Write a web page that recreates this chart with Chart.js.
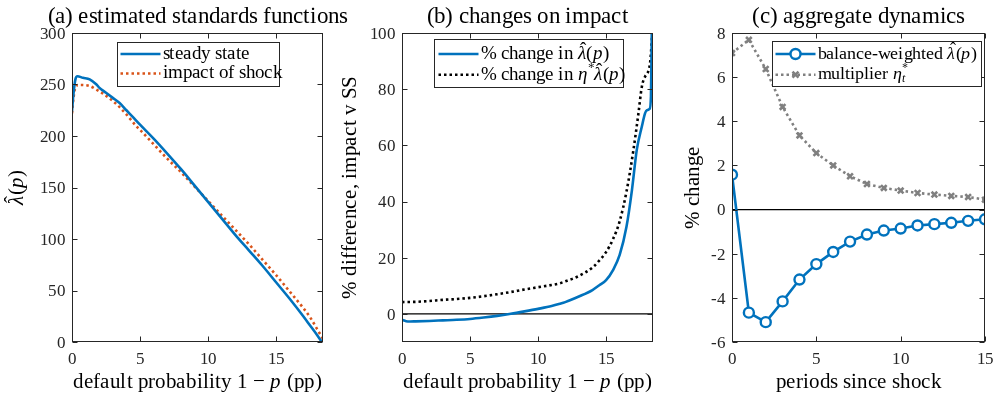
<!DOCTYPE html>
<html><head><meta charset="utf-8">
<script src="https://cdn.jsdelivr.net/npm/chart.js@4.4.1/dist/chart.umd.min.js"></script>
<style>
@font-face{font-family:'CMSerif';font-style:normal;font-weight:400;src:local('Liberation Serif'),local('LiberationSerif'),local('Liberation Serif Regular');}
@font-face{font-family:'CMSerif';font-style:italic;font-weight:400;src:local('Liberation Serif Italic'),local('LiberationSerif-Italic');}
html,body{margin:0;padding:0;background:#fff;}
body{width:995px;height:394px;overflow:hidden;position:relative;}
canvas{position:absolute;top:0;background:transparent;}
#fontprime{position:absolute;left:0;top:0;font-family:'CMSerif';font-size:24px;white-space:nowrap;color:#fff;opacity:0.01;}
</style></head>
<body>
<div id="fontprime">prime 0123 λ η <i>italic λ η p t</i></div>
<canvas id="ca" width="350" height="394" style="left:0px"></canvas>
<canvas id="cb" width="330" height="394" style="left:330px"></canvas>
<canvas id="cc" width="335" height="394" style="left:660px"></canvas>
<script>
// ---------------- DATA ----------------
// Panel (a): estimated standards functions
const aSteadyX = [0,0.1,0.25,0.4,0.8,1.3,1.8,2,2.5,3,3.5,4,4.5,5,6,7,8,9,10,11,12,13,14,15,16,17,17.5,18,18.36];
const aSteadyY = [224,240,255,258,256.5,255,250,247,242,237,232,225,218,211,197.5,183,168,152,136,120,104,89,74,58,42,25,16,7,0];
const aImpactX = [0,0.1,0.3,0.6,1.3,1.8,2.3,3,3.5,4,4.76,5,6,7,8,9,10,11,12,13,14,15,16,17,17.5,18,18.45];
const aImpactY = [222,236,249,249.5,248.5,245,241,234,228,221,209,206,192,178,165,151,137,123,109,95,80,65,49,33,24,13,3];

// Panel (b): changes on impact
const bLamX = [0,0.3,0.6,1,2,3,4,5,6,7,8,9,10,11,11.6,12,13,14,14.5,15,15.5,16,16.5,16.9,17.26,17.63,17.87,18.0,18.2,18.3,18.36];
const bLamY = [-2.1,-2.6,-2.7,-2.65,-2.5,-2.3,-2.1,-1.8,-1.3,-0.7,0.05,0.9,1.8,2.8,3.6,4.2,6.2,8.5,10.2,12,15.5,21,31,44,58.5,66.7,71.5,72.5,73,77.5,100];
const bEtaX = [0,1,2,3,4,5,6,7,8,9,10,11,11.6,12,13,14,14.5,15,15.5,16,16.5,17,17.38,17.63,17.87,18.1,18.25,18.4];
const bEtaY = [4.2,4.3,4.6,5.0,5.3,5.7,6.3,7.0,7.8,8.7,9.5,10.3,10.9,11.6,13.5,16.5,19,22,26.5,33,43.5,58,71.4,80.9,84.5,86.3,90,100];

// Panel (c): aggregate dynamics
const periods = [0,1,2,3,4,5,6,7,8,9,10,11,12,13,14,15];
const balanceWeighted = [1.58,-4.67,-5.1,-4.16,-3.17,-2.47,-1.92,-1.45,-1.13,-0.95,-0.86,-0.72,-0.66,-0.6,-0.51,-0.44];
const multiplier = [7.09,7.69,6.37,4.65,3.36,2.56,2.0,1.51,1.16,0.98,0.86,0.75,0.68,0.62,0.57,0.45];

// Axis ranges and tick labels
const xRangeAB = [0, 18.45];
const xTicksAB = [0,5,10,15];
const yRangeA = [0,300];
const yTicksA = [0,50,100,150,200,250,300];
const yRangeB = [-10,100];
const yTicksB = [0,20,40,60,80,100];
const xRangeC = [0,15];
const xTicksC = [0,5,10,15];
const yRangeC = [-6,8];
const yTicksC = [-6,-4,-2,0,2,4,6,8];

// Text ($...$ = math: letters italic, ^ superscript, _ subscript)
const titles = ['(a) estimated standards functions','(b) changes on impact','(c) aggregate dynamics'];
const xTitleAB = 'default probability 1 \u2212 $p$ (pp)';
const xTitleC = 'periods since shock';
const yTitles = ['$\u03BB\u0302(p)$','% difference, impact v SS','% change'];
const legendA = ['steady state','impact of shock'];
const legendB = ['% change in $\u03BB\u0302(p)$','% change in $\u03B7^*\u03BB\u0302(p)$'];
const legendC = ['balance-weighted $\u03BB\u0302(p)$','multiplier $\u03B7^*_t$'];

// ---------------- HELPERS ----------------
const FAMILY = "CMSerif, 'Liberation Serif', 'Times New Roman', serif";
const BASE = 24;
const INK = '#262626';
const BLUE = '#0072BD', ORANGE = '#D95319', GRAY = '#808080';
const pts = (xs, ys) => xs.map((x,i)=>({x, y: ys[i]}));

function setFont(ctx, italic){ ctx.font = (italic?'italic ':'') + BASE + 'px ' + FAMILY; }
function textW(ctx, t, size, italic){ setFont(ctx, italic); return ctx.measureText(t).width * size / BASE; }
function fillT(ctx, t, x, y, size, italic){
  const k = size / BASE; ctx.save(); ctx.translate(x, y); ctx.scale(k, k); setFont(ctx, italic); ctx.fillText(t, 0, 0); ctx.restore();
}
function parseRich(str){
  const segs=[]; let math=false, mode='n';
  for (const ch of str){
    if (ch==='$'){ math=!math; continue; }
    if (math && (ch==='^'||ch==='_')){ mode = ch==='^'?'sup':'sub'; continue; }
    if (ch==='\u0302'){
      const last = segs[segs.length-1];
      const c = last.t.slice(-1); last.t = last.t.slice(0,-1);
      if (!last.t) segs.pop();
      segs.push({t:c, it:last.it, mode:last.mode, hat:true});
      continue;
    }
    const it = math && /[a-zA-Z\u03B1-\u03C9]/.test(ch);
    const last = segs[segs.length-1];
    if (last && last.it===it && last.mode==='n' && mode==='n' && !last.hat) { last.t += ch; }
    else segs.push({t:ch, it, mode});
    mode='n';
  }
  return segs;
}
function drawRich(ctx, segs, x, y, size, dry){
  let cx=x;
  ctx.textAlign='left';
  segs.forEach((s,k)=>{
    let fs=size, dy=0;
    if (s.mode==='sup'){ fs=size*0.68; dy=-size*0.32; }
    if (s.mode==='sub'){ fs=size*0.68; dy=size*0.24; }
    let sx = cx;
    if (s.mode==='sub' && k>0 && segs[k-1].mode==='sup') sx = segs[k-1]._x;
    const w = textW(ctx, s.t, fs, s.it);
    if (!dry){
      fillT(ctx, s.t, sx, y+dy, fs, s.it);
      if (s.hat){
        const hw = textW(ctx, '\u02C6', fs, false);
        fillT(ctx, '\u02C6', sx + w/2 - hw/2 + (s.it?1.5:0), y+dy - fs*0.2, fs, false);
      }
    }
    s._x = sx;
    cx = Math.max(cx, sx + w + (s.it?1:0));
  });
  return cx - x;
}
function drawMarker(ctx, style, x, y, r){
  ctx.beginPath();
  if (style==='circle'){ ctx.arc(x,y,r,0,Math.PI*2); ctx.fill(); ctx.stroke(); }
  else if (style==='crossRot'){ const d=r*0.75; ctx.moveTo(x-d,y-d); ctx.lineTo(x+d,y+d); ctx.moveTo(x+d,y-d); ctx.lineTo(x-d,y+d); ctx.stroke(); }
}

const TICK_SIZE = 17;
const framePlugin = {
  id:'frame',
  afterDatasetsDraw(chart){
    const {ctx, chartArea:ca, scales:{x,y}} = chart;
    ctx.save();
    ctx.strokeStyle=INK; ctx.lineWidth=1; ctx.setLineDash([]);
    const L=Math.round(ca.left)+0.5, R=Math.round(ca.right)-0.5, T=Math.round(ca.top)+0.5, B=Math.round(ca.bottom)-0.5;
    ctx.strokeRect(L,T,R-L,B-T);
    const tl=5;
    ctx.beginPath();
    x.ticks.forEach(t=>{ const p=Math.round(x.getPixelForValue(t.value))+0.5; ctx.moveTo(p,B); ctx.lineTo(p,B-tl); ctx.moveTo(p,T); ctx.lineTo(p,T+tl); });
    y.ticks.forEach(t=>{ const p=Math.round(y.getPixelForValue(t.value))+0.5; ctx.moveTo(L,p); ctx.lineTo(L+tl,p); ctx.moveTo(R,p); ctx.lineTo(R-tl,p); });
    ctx.stroke();
    ctx.fillStyle=INK; ctx.textBaseline='alphabetic';
    ctx.textAlign='right';
    y.ticks.forEach(t=>fillT(ctx, String(t.value), ca.left-7, y.getPixelForValue(t.value)+5.8, TICK_SIZE, false));
    ctx.textAlign='center';
    x.ticks.forEach(t=>fillT(ctx, String(t.value), x.getPixelForValue(t.value), ca.bottom+22, TICK_SIZE, false));
    ctx.restore();
  }
};
const axisTitlesPlugin = {
  id:'axisTitles',
  afterDraw(chart, args, o){
    const {ctx, chartArea:ca} = chart;
    ctx.save(); ctx.fillStyle='#000'; ctx.textBaseline='middle';
    ctx.textAlign='center';
    fillT(ctx, o.title, (ca.left+ca.right)/2, o.titleY, o.titleSize, false);
    const xs = parseRich(o.x); const xw = drawRich(ctx, xs, 0, 0, o.size, true);
    drawRich(ctx, xs, (ca.left+ca.right)/2 - xw/2, o.xY, o.size);
    ctx.translate(o.yX, (ca.top+ca.bottom)/2); ctx.rotate(-Math.PI/2);
    const ys = parseRich(o.y); const yw = drawRich(ctx, ys, 0, 0, o.size, true);
    drawRich(ctx, ys, -yw/2, 0, o.size);
    ctx.restore();
  }
};
const boxLegendPlugin = {
  id:'boxLegend',
  afterDraw(chart, args, o){
    const {ctx, chartArea:ca} = chart;
    const x0=Math.round(ca.left+o.left)+0.5, y0=Math.round(ca.top+o.top)+0.5;
    ctx.save();
    ctx.fillStyle='#fff'; ctx.fillRect(x0,y0,o.width,o.height);
    ctx.strokeStyle=INK; ctx.lineWidth=1; ctx.strokeRect(x0,y0,o.width,o.height);
    const items = chart.data.datasets.filter(d=>!d.noLegend);
    items.forEach((d,i)=>{
      const cy = y0 + o.rowStart + i*o.rowGap;
      const lx0 = x0 + o.sampleLeft, lx1 = lx0 + o.sampleWidth;
      ctx.beginPath(); ctx.setLineDash(d.borderDash||[]); ctx.lineCap='butt';
      ctx.lineWidth=d.borderWidth; ctx.strokeStyle=d.borderColor;
      ctx.moveTo(lx0,cy); ctx.lineTo(lx1,cy); ctx.stroke(); ctx.setLineDash([]);
      if (d.pointRadius>0){
        ctx.lineWidth=d.pointBorderWidth; ctx.strokeStyle=d.pointBorderColor||d.borderColor; ctx.fillStyle=d.pointBackgroundColor||'#fff';
        drawMarker(ctx, d.pointStyle, (lx0+lx1)/2, cy, d.pointRadius);
      }
      ctx.fillStyle='#000'; ctx.textBaseline='middle';
      drawRich(ctx, parseRich(d.label), lx1+o.textGap, cy, o.fontSize);
    });
    ctx.restore();
  }
};

function makeOptions(cfg){
  return {
    responsive:false, animation:false, devicePixelRatio:1,
    layout:{padding:{left:0,right:cfg.padRight,top:33,bottom:0}},
    plugins:{
      legend:{display:false}, tooltip:{enabled:false}, title:{display:false},
      boxLegend: cfg.legend,
      axisTitles: {title:cfg.title, titleY:17, titleSize:22.5, x:cfg.xTitle, y:cfg.yTitle, xY:382, yX:cfg.yTitleX, size:21}
    },
    scales:{
      x:{type:'linear', min:cfg.xRange[0], max:cfg.xRange[1],
        grid:{display:false, drawTicks:false}, border:{display:false},
        afterBuildTicks:s=>{ s.ticks = cfg.xTicks.map(v=>({value:v})); },
        afterFit:s=>{ s.height = 52; },
        ticks:{display:false}, title:{display:false}
      },
      y:{type:'linear', min:cfg.yRange[0], max:cfg.yRange[1],
        grid:{display:false, drawTicks:false}, border:{display:false},
        afterBuildTicks:s=>{ s.ticks = cfg.yTicks.map(v=>({value:v})); },
        afterFit:s=>{ s.width = 72; },
        ticks:{display:false}, title:{display:false}
      }
    }
  };
}
Chart.register(framePlugin, boxLegendPlugin, axisTitlesPlugin);
Chart.defaults.font.family = FAMILY;

const charts = [];
function build(){
  if (charts.length) { charts.forEach(c => c.update('none')); return; }
  // ---------------- PANEL A ----------------
  charts.push(new Chart(document.getElementById('ca'), {
    type:'line',
    data:{datasets:[
      {label:legendA[0], data:pts(aSteadyX,aSteadyY), borderColor:BLUE, borderWidth:2.6, pointRadius:0, cubicInterpolationMode:'monotone', fill:false},
      {label:legendA[1], data:pts(aImpactX,aImpactY), borderColor:ORANGE, borderWidth:2.6, borderDash:[2.5,3], pointRadius:0, cubicInterpolationMode:'monotone', fill:false}
    ]},
    options: makeOptions({padRight:27, title:titles[0], xRange:xRangeAB, xTicks:xTicksAB, yRange:yRangeA, yTicks:yTicksA,
      xTitle:xTitleAB, yTitle:yTitles[0], yTitleX:17,
      legend:{left:45, top:9, width:162, height:44, rowStart:11.5, rowGap:19.5, sampleLeft:3, sampleWidth:40, textGap:2, fontSize:18.5}})
  }));
  // ---------------- PANEL B ----------------
  charts.push(new Chart(document.getElementById('cb'), {
    type:'line',
    data:{datasets:[
      {label:legendB[0], data:pts(bLamX,bLamY), borderColor:BLUE, borderWidth:2.6, pointRadius:0, cubicInterpolationMode:'monotone', fill:false},
      {label:legendB[1], data:pts(bEtaX,bEtaY), borderColor:'#000', borderWidth:2.6, borderDash:[2.5,3], pointRadius:0, cubicInterpolationMode:'monotone', fill:false},
      {label:'zero', noLegend:true, data:pts(xRangeAB,[0,0]), borderColor:'#000', borderWidth:1.3, pointRadius:0, fill:false}
    ]},
    options: makeOptions({padRight:7, title:titles[1], xRange:xRangeAB, xTicks:xTicksAB, yRange:yRangeB, yTicks:yTicksB,
      xTitle:xTitleAB, yTitle:yTitles[1], yTitleX:20,
      legend:{left:32, top:6, width:189, height:48, rowStart:14.5, rowGap:20.7, sampleLeft:4, sampleWidth:40, textGap:2, fontSize:18.5}})
  }));
  // ---------------- PANEL C ----------------
  charts.push(new Chart(document.getElementById('cc'), {
    type:'line',
    data:{datasets:[
      {label:legendC[0], data:pts(periods,balanceWeighted), borderColor:BLUE, borderWidth:2.6, pointStyle:'circle', pointRadius:5, pointBorderWidth:2.4, pointBorderColor:BLUE, pointBackgroundColor:'#fff', tension:0, fill:false},
      {label:legendC[1], data:pts(periods,multiplier), borderColor:GRAY, borderWidth:2.6, borderDash:[2.5,3], pointStyle:'crossRot', pointRadius:4, pointBorderWidth:2.6, pointBorderColor:GRAY, pointBackgroundColor:GRAY, tension:0, fill:false},
      {label:'zero', noLegend:true, data:pts(xRangeC,[0,0]), borderColor:'#000', borderWidth:1.3, pointRadius:0, fill:false}
    ]},
    options: makeOptions({padRight:10, title:titles[2], xRange:xRangeC, xTicks:xTicksC, yRange:yRangeC, yTicks:yTicksC,
      xTitle:xTitleC, yTitle:yTitles[2], yTitleX:33,
      legend:{left:40, top:8, width:209, height:45, rowStart:12.5, rowGap:20.7, sampleLeft:3, sampleWidth:40, textGap:2, fontSize:17.5}})
  }));
}
build();
Promise.all([document.fonts.load("24px CMSerif"), document.fonts.load("italic 24px CMSerif")]).then(build, build);
document.fonts.ready.then(build);
setTimeout(build, 100);
</script>
</body></html>
